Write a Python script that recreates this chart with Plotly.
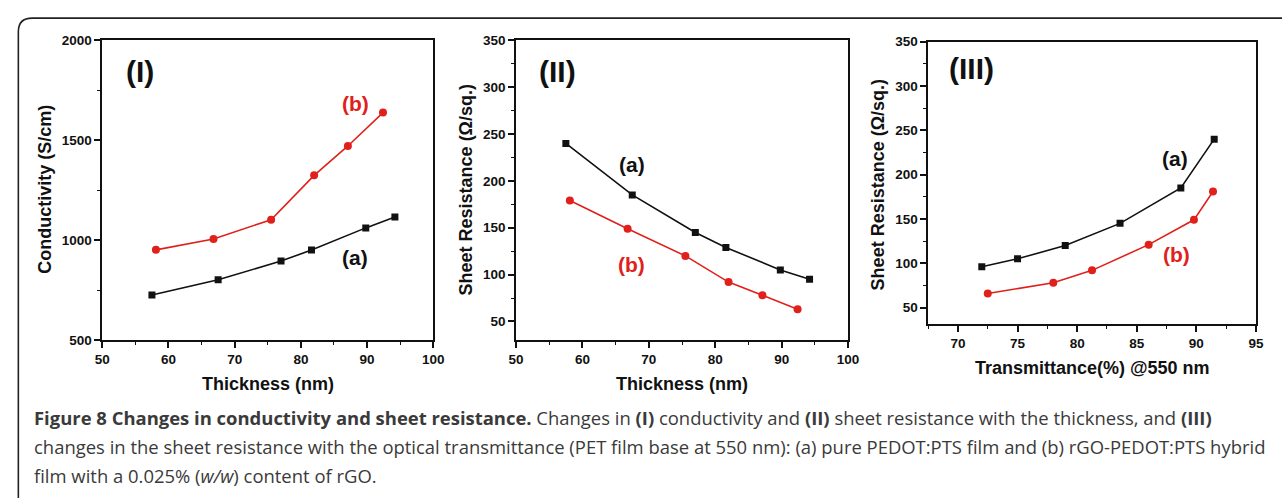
import plotly.graph_objects as go

W, H = 1282, 498

# ---------------- data ----------------
# Panel I: conductivity vs thickness
thick_a = [57.5, 67.5, 77.0, 81.6, 89.8, 94.2]
cond_a = [725, 801, 895, 950, 1061, 1116]
thick_b = [58.1, 66.8, 75.5, 82.0, 87.1, 92.4]
cond_b = [951, 1005, 1102, 1324, 1471, 1638]

# Panel II: sheet resistance vs thickness
rs_a = [240, 185, 145, 129, 105, 95]
rs_b = [179, 149, 120, 92, 78, 63]

# Panel III: sheet resistance vs transmittance
trans_a = [72.0, 75.0, 79.0, 83.6, 88.7, 91.5]
rs3_a = [96, 105, 120, 145, 185, 240]
trans_b = [72.5, 78.0, 81.25, 86.0, 89.8, 91.4]
rs3_b = [66, 78, 92, 121, 149, 181]

# ---------------- helpers ----------------
def px(x):
    return x / W

def py(y):
    return 1 - y / H

BLACK = "#111111"
RED = "#e0201b"
FONT = "Liberation Sans"

fig = go.Figure()

def add_series(xs, ys, xa, ya, color, symbol, size):
    fig.add_trace(go.Scatter(
        x=xs, y=ys, xaxis=xa, yaxis=ya, mode="lines+markers",
        line=dict(color=color, width=1.6),
        marker=dict(color=color, symbol=symbol, size=size),
        showlegend=False, hoverinfo="x+y"))

add_series(thick_a, cond_a, "x", "y", BLACK, "square", 7)
add_series(thick_b, cond_b, "x", "y", RED, "circle", 8)
add_series(thick_a, rs_a, "x2", "y2", BLACK, "square", 7)
add_series(thick_b, rs_b, "x2", "y2", RED, "circle", 8)
add_series(trans_a, rs3_a, "x3", "y3", BLACK, "square", 7)
add_series(trans_b, rs3_b, "x3", "y3", RED, "circle", 8)

def minor(dtick, tick0=0):
    return dict(ticks="outside", ticklen=3, tickwidth=1.3, tickcolor=BLACK, dtick=dtick, tick0=tick0, showgrid=False)

def axis_style(**kw):
    d = dict(
        showline=True, linecolor=BLACK, linewidth=1.6, mirror=True,
        ticks="outside", ticklen=6, tickwidth=1.5, tickcolor=BLACK,
        showgrid=False, zeroline=False,
        tickfont=dict(family=FONT, size=13.5, color=BLACK, weight="bold"),
    )
    d.update(kw)
    return d

fig.update_layout(
    width=W, height=H, margin=dict(l=0, r=0, t=0, b=0),
    paper_bgcolor="white", plot_bgcolor="white",
    xaxis=axis_style(domain=[px(95.7), px(431.7)], range=[50, 100], dtick=10, anchor="y", minor=minor(5)),
    yaxis=axis_style(domain=[py(343.3), py(34.3)], range=[500, 2000], dtick=500, anchor="x", minor=minor(250)),
    xaxis2=axis_style(domain=[px(515.7), px(852.7)], range=[50, 100], dtick=10, anchor="y2", minor=minor(5)),
    yaxis2=axis_style(domain=[py(343.3), py(34.3)], range=[30.3, 350], tick0=50, dtick=50, anchor="x2",
                      minor=minor(25, 50)),
    xaxis3=axis_style(domain=[px(934), px(1266.7)], range=[67.5, 95], tick0=70, dtick=5, anchor="y3",
                      minor=minor(2.5, 70)),
    yaxis3=axis_style(domain=[py(327.3), py(35.7)], range=[31, 350], tick0=50, dtick=50, anchor="x3",
                      minor=minor(25, 50)),
)

ann = []

def label(x, y, text, size, color=BLACK):
    ann.append(dict(x=px(x), y=py(y), xref="paper", yref="paper", text=text, showarrow=False,
                    xanchor="center", yanchor="middle",
                    font=dict(family=FONT, size=size, color=color, weight="bold")))

# panel labels
label(134, 66, "(I)", 30)
label(558, 66, "(II)", 30)
label(978, 63, "(III)", 30)
label(353, 99, "(b)", 21, RED)
label(352, 258, "(a)", 21)
label(633, 162, "(a)", 21)
label(633, 266, "(b)", 21, RED)
label(1185, 156, "(a)", 21)
label(1186, 255, "(b)", 21, RED)

# axis titles
def title(x, y, text, angle=0):
    ann.append(dict(x=px(x), y=py(y), xref="paper", yref="paper", text=text, showarrow=False,
                    xanchor="center", yanchor="middle",
                    textangle=angle, font=dict(family=FONT, size=18, color=BLACK, weight="bold")))

title(38, 188, "Conductivity (S/cm)", -90)
title(465, 188, "Sheet Resistance (Ω/sq.)", -90)
title(884, 183, "Sheet Resistance (Ω/sq.)", -90)
title(264, 389, "Thickness (nm)")
title(684, 389, "Thickness (nm)")
title(1101, 372, "Transmittance(%) @550 nm")

# caption
CAP = dict(family="Open Sans", size=18.45, color="#3a3a3a")
cap_lines = [
    "<b>Figure 8 Changes in conductivity and sheet resistance.</b> Changes in <b>(I)</b> conductivity and "
    "<b>(II)</b> sheet resistance with the thickness, and <b>(III)</b>",
    "changes in the sheet resistance with the optical transmittance (PET film base at 550 nm): (a) pure "
    "PEDOT:PTS film and (b) rGO-PEDOT:PTS hybrid",
    "film with a 0.025% (<i>w/w</i>) content of rGO.",
]
for i, t in enumerate(cap_lines):
    ann.append(dict(x=px(24), y=py(423 + 30 * i), xref="paper", yref="paper", text=t, showarrow=False,
                    xanchor="left", yanchor="middle", font=CAP))

fig.update_layout(annotations=ann)

# outer frame with rounded top-left corner
r = 14
path = (f"M {px(10.5)},{py(520)} L {px(10.5)},{py(11.5 + r)} "
        f"Q {px(10.5)},{py(11.5)} {px(10.5 + r)},{py(11.5)} L {px(1300)},{py(11.5)}")
fig.add_shape(type="path", path=path, xref="paper", yref="paper",
              line=dict(color="#222222", width=1.6))

fig.write_html(
    "out.html",
    config={"displayModeBar": False},
    post_script="document.body.style.margin='0';document.body.style.overflow='hidden';",
)
